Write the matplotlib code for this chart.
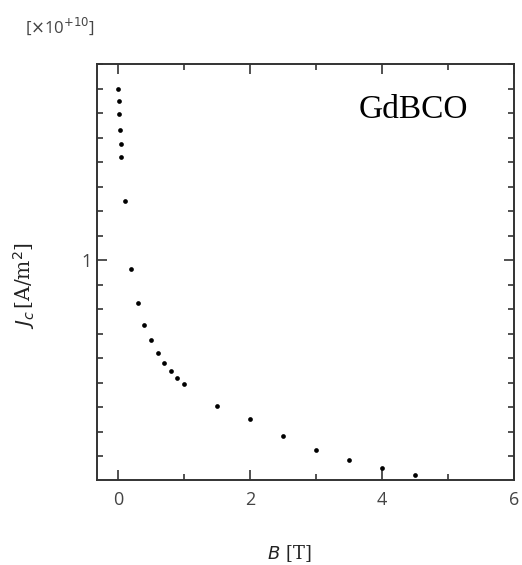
import numpy as np
import matplotlib.pyplot as plt
from matplotlib.ticker import MultipleLocator, FixedLocator

# données (Jc en unités de 1e10 A/m^2)
champ_B = [0, 0.01, 0.02, 0.03, 0.04, 0.05, 0.1, 0.2, 0.3, 0.4, 0.5, 0.6, 0.7,
           0.8, 0.9, 1.0, 1.5, 2.0, 2.5, 3.0, 3.5, 4.0, 4.5]
jc = [1.698, 1.649, 1.595, 1.531, 1.475, 1.420, 1.241, 0.963, 0.826, 0.736,
      0.673, 0.622, 0.581, 0.548, 0.518, 0.493, 0.403, 0.352, 0.282, 0.223,
      0.182, 0.151, 0.121]
ticks_x = [0, 2, 4, 6]
ticks_y = [1]

gris = '#333333'

fig = plt.figure(figsize=(5.22, 5.65), dpi=100)
ax = fig.add_axes([0.1858, 0.1504, 0.7989, 0.7363])

ax.plot(champ_B, jc, 'o', color='black', markersize=3.4, markeredgewidth=0)

ax.set_xlim(-0.32, 6.0)
ax.set_ylim(0.102, 1.8)

ax.xaxis.set_major_locator(FixedLocator(ticks_x))
ax.xaxis.set_minor_locator(FixedLocator([1, 3, 5]))
ax.yaxis.set_major_locator(FixedLocator(ticks_y))
ax.yaxis.set_minor_locator(MultipleLocator(0.1))
ax.set_yticklabels(['1'])

ax.tick_params(which='both', direction='in', top=True, right=True,
               colors=gris, labelcolor='#444444', labelsize=13, width=1.2)
ax.tick_params(which='major', length=7)
ax.tick_params(axis='x', which='major', pad=8)
ax.tick_params(axis='y', which='major', pad=4)
ax.tick_params(which='minor', length=4)
for lab in ax.get_xticklabels() + ax.get_yticklabels():
    lab.set_family('Open Sans')

for s in ax.spines.values():
    s.set_color(gris)
    s.set_linewidth(1.4)

ax.text(0.89, 0.889, 'GdBCO', transform=ax.transAxes, ha='right', va='center',
        fontsize=24, family='Liberation Serif', color='black')

fig.text(0.048, 0.953, r'[$\times$10$^{+10}$]', fontsize=12, color='#444444',
         family='Open Sans', ha='left', va='center')

fig.text(0.555, 0.021, r'$B$ [T]', fontsize=13, ha='center', va='center',
         family='DejaVu Serif', color='#222222')
fig.text(0.046, 0.494, r'$J_c\,$[A/m$^2$]', fontsize=14.5, ha='center',
         va='center', rotation=90, family='DejaVu Serif', color='#222222')

fig.savefig('out.png', dpi=100)
